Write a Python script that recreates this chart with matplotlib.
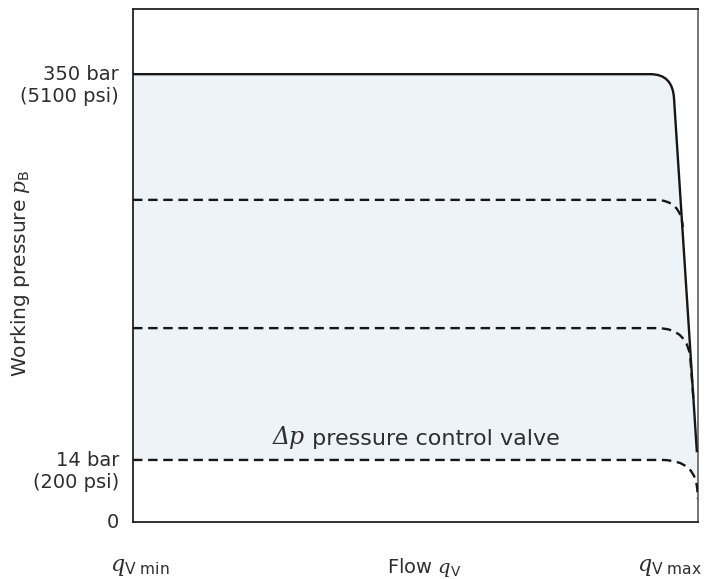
import matplotlib
matplotlib.use("Agg")
import matplotlib.pyplot as plt
from matplotlib.path import Path
from matplotlib.patches import PathPatch

plt.rcParams["font.family"] = "DejaVu Sans"
plt.rcParams["mathtext.fontset"] = "custom"
plt.rcParams["mathtext.it"] = "DejaVu Serif:italic"
plt.rcParams["mathtext.rm"] = "DejaVu Sans"
plt.rcParams["mathtext.sf"] = "DejaVu Sans"

# schematic characteristic: flow 0..100 (qV min..qV max), pressure 0..100 (not to scale)
levels = [87.3, 62.8, 37.8, 12.1]          # pressure setpoints (top = 350 bar, bottom = 14 bar)
bend_x = [91.6, 92.4, 92.8, 93.6]          # flow where the curve starts to drop
corner_x = [95.5, 97.0, 98.5, 99.9]        # corner of the rounded knee
join_pts = [(95.75, 82.6), (97.3, 57.5), (98.7, 31.0), (99.9, 5.6)]
tail_pts = [(99.8, 13.6), None, (99.2, 23.8), (99.9, 4.6)]
line_styles = ["solid", "dashed", "dashed", "dashed"]

tick_pos = [levels[0], levels[3], 0]
tick_text = ["350 bar\n(5100 psi)", "14 bar\n(200 psi)", "0"]

ink = "#161616"
text_col = "#2e2e2e"
fill_col = "#eef3f7"


def curve_path(i):
    lv = levels[i]
    verts = [(0, lv), (bend_x[i], lv), (corner_x[i], lv), join_pts[i]]
    codes = [Path.MOVETO, Path.LINETO, Path.CURVE3, Path.CURVE3]
    if tail_pts[i] is not None:
        verts.append(tail_pts[i])
        codes.append(Path.LINETO)
    return verts, codes


fig = plt.figure(figsize=(7.08, 5.79), dpi=100)
ax = fig.add_axes([0.1879, 0.0984, 0.798, 0.886])
ax.set_xlim(0, 100)
ax.set_ylim(0, 100)

# shaded band between the max-pressure curve and the 14 bar curve
top_v, top_c = curve_path(0)
bot_v, bot_c = curve_path(3)
fill_v = top_v + bot_v[::-1] + [top_v[0]]
fill_c = top_c + [Path.LINETO, Path.LINETO, Path.CURVE3, Path.CURVE3, Path.LINETO, Path.CLOSEPOLY]
ax.add_patch(PathPatch(Path(fill_v, fill_c), facecolor=fill_col, edgecolor="none", zorder=1))

for i in range(len(levels)):
    v, c = curve_path(i)
    if line_styles[i] == "solid":
        ls = "-"
    else:
        ls = (0, (4, 2.4))
    ax.add_patch(PathPatch(Path(v, c), facecolor="none", edgecolor=ink, lw=1.7,
                           linestyle=ls, capstyle="butt", zorder=3))

for s in ["left", "bottom", "top"]:
    ax.spines[s].set_color("#222222")
    ax.spines[s].set_linewidth(1.3)
ax.spines["right"].set_color("#6a6a6a")
ax.spines["right"].set_linewidth(1.3)

ax.set_xticks([])
ax.set_yticks([])

# pressure labels, first line centred on the level
for pos, txt in zip(tick_pos, tick_text):
    n = txt.count("\n")
    ax.annotate(txt, xy=(0, pos), xycoords="data", xytext=(-10, -8.3 * n),
                textcoords="offset points", ha="right", va="center",
                fontsize=14, color=text_col, linespacing=1.2, annotation_clip=False)

# valve label: italic serif "Δp" in front of the sans text
valve = ax.text(53.0, 14.3, " pressure control valve", ha="center", va="bottom",
                fontsize=16, color=text_col, zorder=4)
ax.annotate("Δp", xy=(0, 0), xycoords=valve, ha="right", va="bottom",
            fontsize=17, family="DejaVu Serif", style="italic", color=text_col, zorder=4)

ax.text(-20.0, 48.5, r"Working pressure $p_{\mathrm{B}}$", rotation=90, ha="center", va="center",
        fontsize=14.5, color=text_col, transform=ax.transData)

ax.text(1.2, -8.8, r"$q_{\mathrm{V\ min}}$", ha="center", va="center", fontsize=16, color=text_col)
ax.text(51.5, -8.8, r"Flow $q_{\mathrm{V}}$", ha="center", va="center", fontsize=14, color=text_col)
ax.text(95.0, -8.8, r"$q_{\mathrm{V\ max}}$", ha="center", va="center", fontsize=16, color=text_col)

fig.savefig("out.png", dpi=100)
